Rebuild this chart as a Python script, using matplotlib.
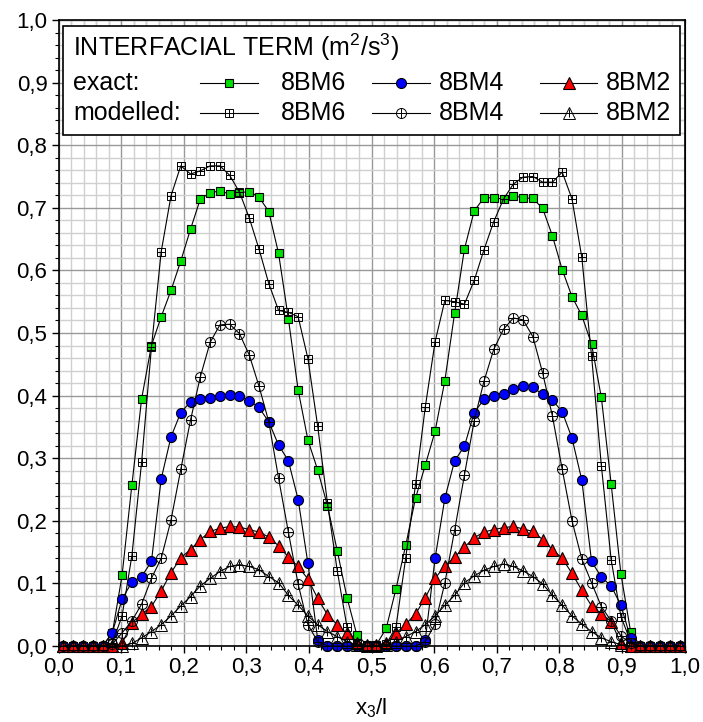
import numpy as np
import matplotlib.pyplot as plt
from matplotlib.ticker import MultipleLocator, FuncFormatter
from matplotlib.patches import Rectangle

plt.rcParams['font.family'] = ['Liberation Sans', 'DejaVu Sans']
plt.rcParams['mathtext.fontset'] = 'custom'
plt.rcParams['mathtext.rm'] = 'Liberation Sans'
plt.rcParams['mathtext.it'] = 'Liberation Sans'

# 64 cell centres across the channel
n_cells = 64
x3 = (np.arange(n_cells) + 0.5) / n_cells

exact_8bm6 = [0, 0, 0, 0, 0, 0.020, 0.113, 0.257, 0.395, 0.480, 0.526, 0.568, 0.615, 0.666, 0.714, 0.724,
              0.727, 0.722, 0.724, 0.726, 0.717, 0.694, 0.627, 0.523, 0.409, 0.329, 0.281, 0.224, 0.152, 0.077, 0.018, 0.002,
              0.002, 0.028, 0.091, 0.161, 0.236, 0.289, 0.343, 0.424, 0.532, 0.634, 0.695, 0.716, 0.716, 0.714, 0.719, 0.716,
              0.715, 0.699, 0.655, 0.601, 0.558, 0.528, 0.482, 0.397, 0.259, 0.115, 0.022, 0, 0, 0, 0, 0]
exact_8bm4 = [0, 0, 0, 0, 0, 0.021, 0.075, 0.102, 0.111, 0.135, 0.267, 0.334, 0.373, 0.390, 0.394, 0.396,
              0.400, 0.401, 0.399, 0.392, 0.381, 0.358, 0.321, 0.296, 0.234, 0.132, 0.010, 0, 0, 0, 0, 0,
              0, 0, 0, 0, 0, 0.010, 0.140, 0.236, 0.296, 0.319, 0.373, 0.394, 0.399, 0.403, 0.410, 0.415,
              0.413, 0.402, 0.393, 0.374, 0.332, 0.265, 0.135, 0.110, 0.096, 0.065, 0.012, 0, 0, 0, 0, 0]
exact_8bm2 = [0, 0, 0, 0, 0, 0, 0.004, 0.037, 0.051, 0.063, 0.088, 0.117, 0.141, 0.154, 0.170, 0.183,
              0.188, 0.191, 0.190, 0.186, 0.182, 0.174, 0.160, 0.142, 0.127, 0.107, 0.076, 0.050, 0.034, 0.020, 0.004, 0.002,
              0.002, 0.004, 0.020, 0.035, 0.051, 0.077, 0.108, 0.128, 0.142, 0.158, 0.173, 0.182, 0.186, 0.189, 0.191, 0.187,
              0.183, 0.170, 0.154, 0.140, 0.116, 0.089, 0.064, 0.051, 0.039, 0.004, 0, 0, 0, 0, 0, 0]

model_8bm6 = [0, 0, 0, 0, 0, 0.005, 0.048, 0.144, 0.294, 0.477, 0.630, 0.719, 0.767, 0.754, 0.759, 0.767,
              0.767, 0.752, 0.725, 0.684, 0.634, 0.579, 0.536, 0.533, 0.526, 0.459, 0.351, 0.228, 0.120, 0.030, 0.003, 0,
              0, 0.003, 0.030, 0.141, 0.258, 0.382, 0.486, 0.552, 0.550, 0.546, 0.584, 0.633, 0.678, 0.714, 0.738, 0.749,
              0.750, 0.741, 0.741, 0.757, 0.714, 0.621, 0.463, 0.288, 0.138, 0.047, 0.007, 0, 0, 0, 0, 0]
model_8bm4 = [0, 0, 0, 0, 0, 0.003, 0.021, 0.040, 0.067, 0.108, 0.140, 0.201, 0.282, 0.361, 0.430, 0.485,
              0.513, 0.514, 0.499, 0.465, 0.415, 0.358, 0.268, 0.182, 0.099, 0.034, 0.007, 0, 0, 0, 0, 0,
              0, 0, 0, 0, 0, 0.007, 0.035, 0.101, 0.185, 0.273, 0.360, 0.423, 0.474, 0.506, 0.524, 0.521,
              0.494, 0.436, 0.367, 0.282, 0.200, 0.139, 0.101, 0.063, 0.040, 0.016, 0.004, 0, 0, 0, 0, 0]
model_8bm2 = [0, 0, 0, 0, 0, 0, 0, 0.004, 0.013, 0.023, 0.034, 0.048, 0.064, 0.079, 0.096, 0.108,
              0.119, 0.127, 0.130, 0.127, 0.122, 0.111, 0.101, 0.081, 0.065, 0.048, 0.034, 0.023, 0.015, 0.007, 0.002, 0,
              0, 0.002, 0.007, 0.015, 0.023, 0.034, 0.048, 0.065, 0.081, 0.101, 0.112, 0.121, 0.127, 0.131, 0.127, 0.120,
              0.111, 0.099, 0.081, 0.065, 0.048, 0.035, 0.023, 0.013, 0.007, 0.002, 0, 0, 0, 0, 0, 0]

cases = ['8BM6', '8BM4', '8BM2']
exact = [exact_8bm6, exact_8bm4, exact_8bm2]
model = [model_8bm6, model_8bm4, model_8bm2]
markers = ['s', 'o', '^']
fills = ['#00e000', '#0000ff', '#ff0000']
sizes = [6.2, 7.2, 8]
plus_scale = [1.0, 1.0, 0.8]

fig = plt.figure(figsize=(7.03, 7.22), dpi=100)
ax = fig.add_axes([58.5 / 703, 76 / 722, 626 / 703, 626 / 722])

line_kw = dict(color='k', lw=0.8, clip_on=False)

for y, m, fc, ms in zip(exact, markers, fills, sizes):
    ax.plot(x3, y, marker=m, ms=ms, mfc=fc, mec='k', mew=0.8, zorder=3, **line_kw)

for y, m, ms, ps in zip(model, markers, sizes, plus_scale):
    ax.plot(x3, y, marker=m, ms=ms, mfc='none', mec='k', mew=0.7, zorder=4, **line_kw)
    ax.plot(x3, y, ls='none', marker='+', ms=ms * ps, mec='k', mew=0.7, zorder=4, clip_on=False)

ax.set_xlim(0, 1)
ax.set_ylim(0, 1)
ax.xaxis.set_major_locator(MultipleLocator(0.1))
ax.yaxis.set_major_locator(MultipleLocator(0.1))
ax.xaxis.set_minor_locator(MultipleLocator(0.02))
ax.yaxis.set_minor_locator(MultipleLocator(0.02))
comma = FuncFormatter(lambda v, pos: f'{v:.1f}'.replace('.', ','))
ax.xaxis.set_major_formatter(comma)
ax.yaxis.set_major_formatter(comma)
ax.grid(which='minor', color='#d0d0d0', lw=1.0)
ax.grid(which='major', color='#999999', lw=1.0)
ax.set_axisbelow(True)
ax.tick_params(which='major', direction='out', length=5, width=1, labelsize=16, pad=3)
ax.tick_params(which='minor', direction='out', length=3, width=0.8)
for s in ax.spines.values():
    s.set_linewidth(1.2)

top = ax.secondary_xaxis('top')
top.xaxis.set_minor_locator(MultipleLocator(0.02))
top.tick_params(which='both', direction='in', labeltop=False, length=3, width=0.8)
right = ax.secondary_yaxis('right')
right.yaxis.set_minor_locator(MultipleLocator(0.02))
right.tick_params(which='both', direction='in', labelright=False, length=3, width=0.8)

ax.set_xlabel(r'x$_3$/l', fontsize=16, labelpad=13)

# legend box drawn by hand
fs = 18
ax.add_patch(Rectangle((0.0075, 0.816), 0.985, 0.174, fc='white', ec='k', lw=1.2, zorder=6, clip_on=False))
ax.text(0.023, 0.957, r'INTERFACIAL TERM (m$^2$/s$^3$)', fontsize=fs, va='center', ha='left', zorder=7)
row_y = [0.900, 0.851]
ax.text(0.023, row_y[0], 'exact:', fontsize=fs, va='center', ha='left', zorder=7)
ax.text(0.023, row_y[1], 'modelled:', fontsize=fs, va='center', ha='left', zorder=7)
sample_x = [0.272, 0.547, 0.815]
label_x = [0.356, 0.608, 0.875]
for k in range(3):
    xs = [sample_x[k] - 0.046, sample_x[k] + 0.046]
    ax.plot(xs, [row_y[0]] * 2, color='k', lw=0.8, zorder=7)
    ax.plot(sample_x[k], row_y[0], marker=markers[k], ms=sizes[k], mfc=fills[k], mec='k', mew=0.8, zorder=8)
    ax.plot(xs, [row_y[1]] * 2, color='k', lw=0.8, zorder=7)
    ax.plot(sample_x[k], row_y[1], marker=markers[k], ms=sizes[k], mfc='white', mec='k', mew=0.7, zorder=8)
    ax.plot(sample_x[k], row_y[1], marker='+', ms=sizes[k] * plus_scale[k], mec='k', mew=0.7, zorder=8)
    for r in range(2):
        ax.text(label_x[k], row_y[r], cases[k], fontsize=fs, va='center', ha='left', zorder=7)

fig.savefig('out.png', dpi=100)
